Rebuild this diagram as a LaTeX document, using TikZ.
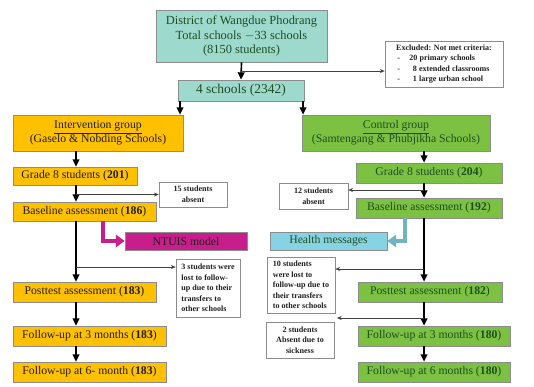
\documentclass[tikz,border=0pt]{standalone}
\usepackage{fontspec}
\setmainfont{Liberation Serif}
\usetikzlibrary{arrows.meta, calc}
\definecolor{WPteal}{HTML}{9ED9CD}
\definecolor{WPorange}{HTML}{FFC000}
\definecolor{WPgreen}{HTML}{7CC142}
\definecolor{WPmagenta}{HTML}{C81E8C}
\definecolor{WPsky}{HTML}{86D3E3}
\definecolor{WPedge}{HTML}{8C8C8C}
\definecolor{WPink}{HTML}{1F1F1F}
\definecolor{WPleaf}{HTML}{1F4D24}
\tikzset{
  wpbox/.style={rectangle, draw=WPedge, line width=0.6pt, text=WPink, align=center,
    inner sep=1pt, font=\fontsize{10}{12}\selectfont},
  wptop/.style={wpbox, fill=WPteal, text=WPleaf},
  wpint/.style={wpbox, fill=WPorange},
  wpctl/.style={wpbox, fill=WPgreen, text=WPleaf},
  wpnote/.style={wpbox, fill=white, draw=WPedge, font=\bfseries\fontsize{6.9}{9}\selectfont},
  wparr/.style={-{Triangle[length=2.2mm,width=2mm]}, line width=1.4pt, draw=black},
  wpthin/.style={-{Stealth[length=1.4mm,width=1.2mm]}, line width=0.4pt, draw=black!75},
  wpblock/.style={-{Triangle[length=2.6mm,width=3.6mm]}, line width=2.6pt},
}
\begin{document}
\begin{tikzpicture}[x=0.03cm, y=-0.03cm]
  \useasboundingbox (0,0) rectangle (534,386);
  % top of the flow
  \node[wptop, minimum width=5.13cm, minimum height=1.56cm, font=\fontsize{10.6}{12.4}\selectfont] (district) at (241.5,36)
    {District of Wangdue Phodrang\\Total schools $-$33 schools\\(8150 students)};
  \node[wpnote, align=left, minimum width=3.54cm, minimum height=1.38cm] (excl) at (444,64)
    {Excluded: Not met criteria:\\
     \hspace*{1pt}-\hspace{8pt}20 primary schools\\
     \hspace*{1pt}-\hspace{11pt}8 extended classrooms\\
     \hspace*{1pt}-\hspace{11pt}1 large urban school};
  \node[wptop, minimum width=3.78cm, minimum height=0.63cm, font=\fontsize{11.5}{13}\selectfont] (four) at (241,90.5)
    {4 schools (2342)};
  % the two arms
  \node[wpint, minimum width=5.1cm, minimum height=1.08cm] (inter) at (98,133)
    {\underline{Intervention group}\\(Gaselo \& Nobding Schools)};
  \node[wpctl, minimum width=5.64cm, minimum height=1.08cm] (ctrl) at (396,133)
    {\underline{Control group}\\(Samtengang \& Phubjikha Schools)};
  \node[wpint, minimum width=3.72cm, minimum height=0.54cm] (igrade) at (75,176)
    {Grade 8 students (\textbf{201})};
  \node[wpctl, minimum width=4.38cm, minimum height=0.6cm] (cgrade) at (429,173)
    {Grade 8 students (\textbf{204})};
  \node[wpnote, minimum width=2.04cm, minimum height=0.75cm] (abs15) at (193,194.5)
    {15 students\\absent};
  \node[wpnote, minimum width=2.07cm, minimum height=0.78cm] (abs12) at (313.5,196)
    {12 students\\absent};
  \node[wpint, minimum width=4.29cm, minimum height=0.57cm] (ibase) at (84.5,211.5)
    {Baseline assessment (\textbf{186})};
  \node[wpctl, minimum width=4.38cm, minimum height=0.6cm] (cbase) at (429,208)
    {Baseline assessment (\textbf{192})};
  \node[wpbox, fill=WPmagenta, minimum width=3.66cm, minimum height=0.54cm] (ntuis) at (186,241)
    {NTUIS model};
  \node[wpbox, fill=WPsky, text=WPleaf, minimum width=3.51cm, minimum height=0.54cm] (health) at (328.5,241)
    {Health messages};
  \node[wpnote, align=left, minimum width=1.92cm, minimum height=1.74cm] (lost3) at (208,288)
    {3 students were\\lost to follow-\\up due to their\\transfers to\\other schools};
  \node[wpnote, align=left, minimum width=2.04cm, minimum height=1.68cm] (lost10) at (301,285)
    {10 students\\were lost to\\follow-up due to\\their transfers\\to other schools};
  \node[wpint, minimum width=4.29cm, minimum height=0.6cm] (ipost) at (84.5,292)
    {Posttest assessment (\textbf{183})};
  \node[wpctl, minimum width=4.32cm, minimum height=0.6cm] (cpost) at (430,292)
    {Posttest assessment (\textbf{182})};
  \node[wpnote, minimum width=2.04cm, minimum height=1.08cm] (sick) at (300,340)
    {2 students\\Absent due to\\sickness};
  \node[wpint, minimum width=4.59cm, minimum height=0.6cm] (ifu3) at (89.5,336)
    {Follow-up at 3 months (\textbf{183})};
  \node[wpint, minimum width=4.59cm, minimum height=0.6cm] (ifu6) at (89.5,372)
    {Follow-up at 6- month (\textbf{183})};
  \node[wpctl, minimum width=4.56cm, minimum height=0.6cm] (cfu3) at (434,336)
    {Follow-up at 3 months (\textbf{180})};
  \node[wpctl, minimum width=4.56cm, minimum height=0.6cm] (cfu6) at (434,372)
    {Follow-up at 6 months (\textbf{180})};
  % columns of the arrows
  \coordinate (icol) at (76,0);
  \coordinate (ccol) at (424,0);
  \coordinate (lcol) at (180,0);
  \coordinate (rcol) at (303,0);
  \coordinate (mcol) at (103,0);
  \coordinate (bcol) at (405,0);
  \coordinate (exsplit) at ($(district.south)!0.5!(four.north)$);
  \coordinate (sickend) at (337,318);
  \draw[wparr] (district.south) -- (four.north);
  \draw[wpthin] (exsplit) -- (exsplit -| excl.west);
  \draw[wparr] (four.south -| lcol) -- (inter.north -| lcol);
  \draw[wparr] (four.south -| rcol) -- (ctrl.north -| rcol);
  % intervention arm
  \draw[wparr] (inter.south -| icol) -- (igrade.north -| icol);
  \draw[wparr] (igrade.south -| icol) -- (ibase.north -| icol);
  \draw[wpthin] (icol |- abs15.west) -- (abs15.west);
  \draw[wparr] (ibase.south -| icol) -- (ipost.north -| icol);
  \draw[wpthin] (icol |- 0,267) -- (lost3.west |- 0,267);
  \draw[wparr] (ipost.south -| icol) -- (ifu3.north -| icol);
  \draw[wparr] (ifu3.south -| icol) -- (ifu6.north -| icol);
  \draw[wpblock, draw=WPmagenta] (ibase.south -| mcol) |- (ntuis.west);
  % control arm
  \draw[wparr] (ctrl.south -| ccol) -- (cgrade.north -| ccol);
  \draw[wparr] (cgrade.south -| ccol) -- (cbase.north -| ccol);
  \draw[wpthin] (ccol |- 0,190) -- (abs12.east |- 0,190);
  \draw[wparr] (cbase.south -| ccol) -- (cpost.north -| ccol);
  \draw[wpthin] (ccol |- 0,269) -- (lost10.east |- 0,269);
  \draw[wparr] (cpost.south -| ccol) -- (cfu3.north -| ccol);
  \draw[wpthin] (ccol |- sickend) -- (sickend);
  \draw[wparr] (cfu3.south -| ccol) -- (cfu6.north -| ccol);
  \draw[wpblock, draw=WPsky!85!black] (cbase.south -| bcol) |- (health.east);
\end{tikzpicture}
\end{document}
